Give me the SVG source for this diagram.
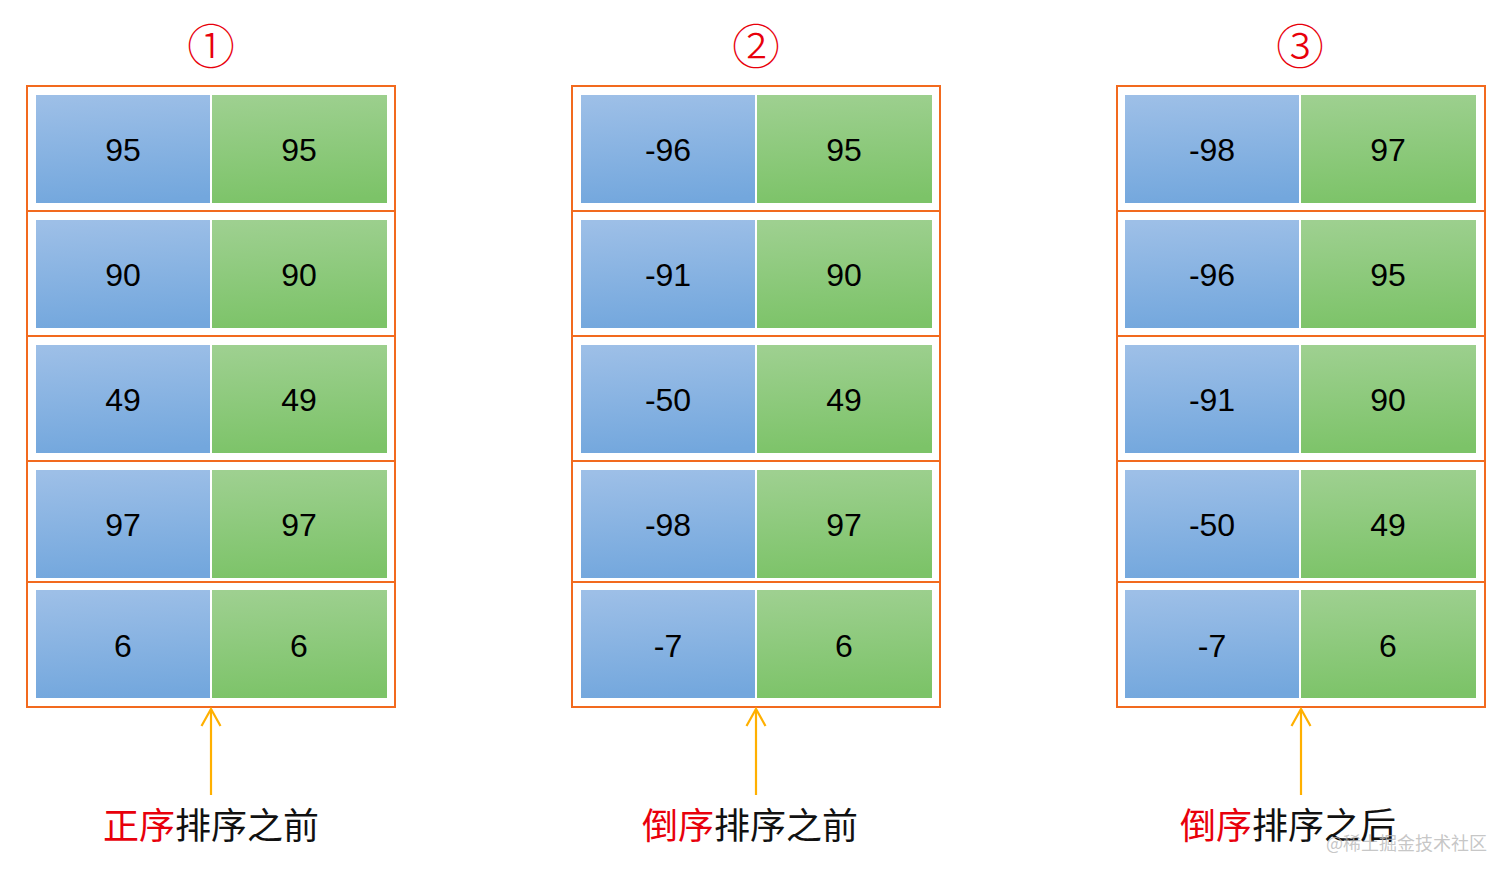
<svg xmlns="http://www.w3.org/2000/svg" width="1512" height="878" viewBox="0 0 1512 878">
<defs>
<linearGradient id="gb" x1="0.3" y1="0" x2="0.4" y2="1">
<stop offset="0" stop-color="#9DBFE7"/>
<stop offset="1" stop-color="#73A7DD"/>
</linearGradient>
<linearGradient id="gg" x1="0.3" y1="0" x2="0.4" y2="1">
<stop offset="0" stop-color="#9ED090"/>
<stop offset="1" stop-color="#7CC368"/>
</linearGradient>
<marker id="ah" viewBox="0 0 24 24" refX="20" refY="12" markerWidth="24" markerHeight="24" markerUnits="userSpaceOnUse" orient="auto">
<path d="M3,2.5 L20,12 L3,21.5" fill="none" stroke="#FFB000" stroke-width="2.2"/>
</marker>
</defs>
<style>
.box{fill:none;stroke:#F26A1E;stroke-width:2}
.b{fill:url(#gb)}
.g{fill:url(#gg)}
.n{font-family:"Liberation Sans",Arial,sans-serif;font-size:32px;fill:#000;text-anchor:middle}
.c{font-family:"Noto Sans CJK SC",sans-serif;font-size:48px;font-weight:300;fill:#E8000B;text-anchor:middle}
.l{font-family:"Noto Sans CJK SC",sans-serif;font-size:36px;fill:#111;text-anchor:middle}
.r{fill:#E8000B}
.wm{font-family:"Noto Sans CJK SC",sans-serif;font-size:18px;fill:#B8B8B8;fill-opacity:0.8}
.ar{stroke:#FFB000;stroke-width:2.2;fill:none}
</style>
<rect width="1512" height="878" fill="#fff"/>

<g id="col1">
<text class="c" x="211" y="64">①</text>
<rect class="box" x="27" y="86" width="368" height="621"/>
<line class="box" x1="27" y1="211" x2="395" y2="211"/>
<line class="box" x1="27" y1="336" x2="395" y2="336"/>
<line class="box" x1="27" y1="461" x2="395" y2="461"/>
<line class="box" x1="27" y1="582" x2="395" y2="582"/>
<g id="c1r1"><rect class="b" x="36" y="95" width="174" height="108"/><rect class="g" x="212" y="95" width="175" height="108"/><text class="n" x="123" y="161">95</text><text class="n" x="299" y="161">95</text></g>
<g id="c1r2"><rect class="b" x="36" y="220" width="174" height="108"/><rect class="g" x="212" y="220" width="175" height="108"/><text class="n" x="123" y="286">90</text><text class="n" x="299" y="286">90</text></g>
<g id="c1r3"><rect class="b" x="36" y="345" width="174" height="108"/><rect class="g" x="212" y="345" width="175" height="108"/><text class="n" x="123" y="411">49</text><text class="n" x="299" y="411">49</text></g>
<g id="c1r4"><rect class="b" x="36" y="470" width="174" height="108"/><rect class="g" x="212" y="470" width="175" height="108"/><text class="n" x="123" y="536">97</text><text class="n" x="299" y="536">97</text></g>
<g id="c1r5"><rect class="b" x="36" y="590" width="174" height="108"/><rect class="g" x="212" y="590" width="175" height="108"/><text class="n" x="123" y="657">6</text><text class="n" x="299" y="657">6</text></g>
</g>

<g id="col2">
<text class="c" x="756" y="64">②</text>
<rect class="box" x="572" y="86" width="368" height="621"/>
<line class="box" x1="572" y1="211" x2="940" y2="211"/>
<line class="box" x1="572" y1="336" x2="940" y2="336"/>
<line class="box" x1="572" y1="461" x2="940" y2="461"/>
<line class="box" x1="572" y1="582" x2="940" y2="582"/>
<g id="c2r1"><rect class="b" x="581" y="95" width="174" height="108"/><rect class="g" x="757" y="95" width="175" height="108"/><text class="n" x="668" y="161">-96</text><text class="n" x="844" y="161">95</text></g>
<g id="c2r2"><rect class="b" x="581" y="220" width="174" height="108"/><rect class="g" x="757" y="220" width="175" height="108"/><text class="n" x="668" y="286">-91</text><text class="n" x="844" y="286">90</text></g>
<g id="c2r3"><rect class="b" x="581" y="345" width="174" height="108"/><rect class="g" x="757" y="345" width="175" height="108"/><text class="n" x="668" y="411">-50</text><text class="n" x="844" y="411">49</text></g>
<g id="c2r4"><rect class="b" x="581" y="470" width="174" height="108"/><rect class="g" x="757" y="470" width="175" height="108"/><text class="n" x="668" y="536">-98</text><text class="n" x="844" y="536">97</text></g>
<g id="c2r5"><rect class="b" x="581" y="590" width="174" height="108"/><rect class="g" x="757" y="590" width="175" height="108"/><text class="n" x="668" y="657">-7</text><text class="n" x="844" y="657">6</text></g>
</g>

<g id="col3">
<text class="c" x="1300" y="64">③</text>
<rect class="box" x="1117" y="86" width="368" height="621"/>
<line class="box" x1="1117" y1="211" x2="1485" y2="211"/>
<line class="box" x1="1117" y1="336" x2="1485" y2="336"/>
<line class="box" x1="1117" y1="461" x2="1485" y2="461"/>
<line class="box" x1="1117" y1="582" x2="1485" y2="582"/>
<g id="c3r1"><rect class="b" x="1125" y="95" width="174" height="108"/><rect class="g" x="1301" y="95" width="175" height="108"/><text class="n" x="1212" y="161">-98</text><text class="n" x="1388" y="161">97</text></g>
<g id="c3r2"><rect class="b" x="1125" y="220" width="174" height="108"/><rect class="g" x="1301" y="220" width="175" height="108"/><text class="n" x="1212" y="286">-96</text><text class="n" x="1388" y="286">95</text></g>
<g id="c3r3"><rect class="b" x="1125" y="345" width="174" height="108"/><rect class="g" x="1301" y="345" width="175" height="108"/><text class="n" x="1212" y="411">-91</text><text class="n" x="1388" y="411">90</text></g>
<g id="c3r4"><rect class="b" x="1125" y="470" width="174" height="108"/><rect class="g" x="1301" y="470" width="175" height="108"/><text class="n" x="1212" y="536">-50</text><text class="n" x="1388" y="536">49</text></g>
<g id="c3r5"><rect class="b" x="1125" y="590" width="174" height="108"/><rect class="g" x="1301" y="590" width="175" height="108"/><text class="n" x="1212" y="657">-7</text><text class="n" x="1388" y="657">6</text></g>
</g>

<g id="connectors">
<line class="ar" x1="211" y1="795" x2="211" y2="709" marker-end="url(#ah)"/>
<line class="ar" x1="756" y1="795" x2="756" y2="709" marker-end="url(#ah)"/>
<line class="ar" x1="1301" y1="795" x2="1301" y2="709" marker-end="url(#ah)"/>
</g>

<g id="label1"><text class="l" x="211" y="839"><tspan class="r">正序</tspan>排序之前</text></g>
<g id="label2"><text class="l" x="750" y="839"><tspan class="r">倒序</tspan>排序之前</text></g>
<g id="label3"><text class="l" x="1288" y="839"><tspan class="r">倒序</tspan>排序之后</text></g>
<text class="wm" x="1326" y="850">@稀土掘金技术社区</text>
</svg>
